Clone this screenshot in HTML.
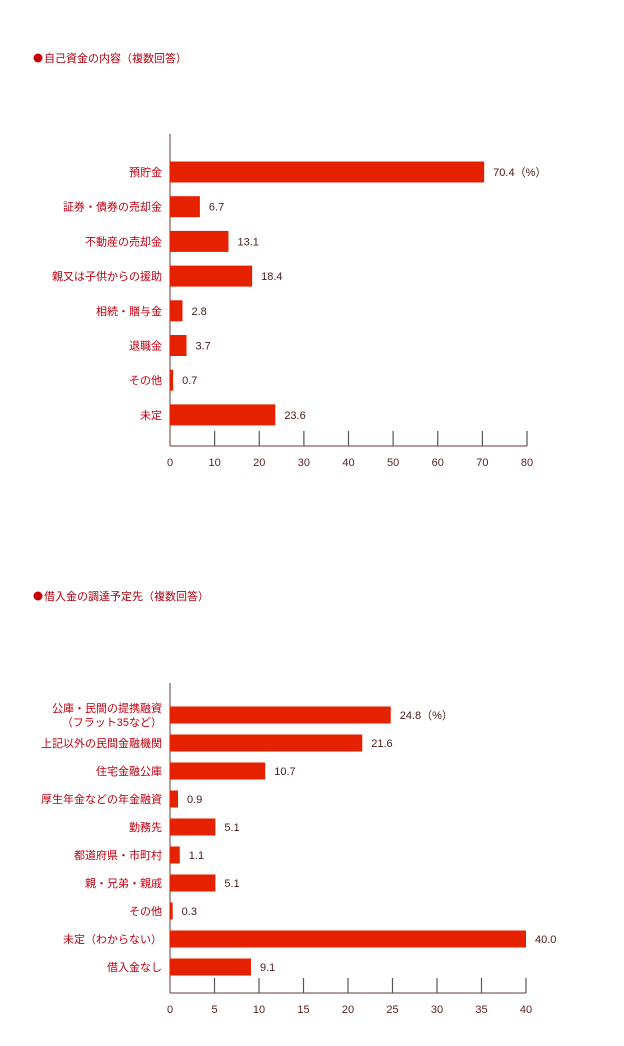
<!DOCTYPE html>
<html><head><meta charset="utf-8">
<style>
html,body{margin:0;padding:0;background:#fff;}
body{width:624px;height:1041px;overflow:hidden;font-family:"Liberation Sans","Noto Sans CJK JP",sans-serif;}
svg text{font-family:"Liberation Sans","Noto Sans CJK JP",sans-serif;}
</style></head>
<body>
<svg id="chart" width="624" height="1041" xmlns="http://www.w3.org/2000/svg">
  <g>
    <circle cx="38" cy="58" r="4.5" fill="#c8000a"></circle>
    <text x="44" y="62" font-size="11" fill="#b00010">自己資金の内容（複数回答）</text>
  </g>
  <g>
    <circle cx="38" cy="596" r="4.5" fill="#c8000a"></circle>
    <text x="44" y="600" font-size="11" fill="#b00010">借入金の調達予定先（複数回答）</text>
  </g>
  <g id="c1"></g>
  <g id="c2"></g>
</svg>
<script>
const cats1 = ["預貯金","証券・債券の売却金","不動産の売却金","親又は子供からの援助","相続・贈与金","退職金","その他","未定"];
const vals1 = [70.4,6.7,13.1,18.4,2.8,3.7,0.7,23.6];
const labels1 = ["70.4（%）","6.7","13.1","18.4","2.8","3.7","0.7","23.6"];
const ticks1 = [0,10,20,30,40,50,60,70,80];

const cats2 = [["公庫・民間の提携融資","（フラット35など）"],["上記以外の民間金融機関"],["住宅金融公庫"],["厚生年金などの年金融資"],["勤務先"],["都道府県・市町村"],["親・兄弟・親戚"],["その他"],["未定（わからない）"],["借入金なし"]];
const vals2 = [24.8,21.6,10.7,0.9,5.1,1.1,5.1,0.3,40.0,9.1];
const labels2 = ["24.8（%）","21.6","10.7","0.9","5.1","1.1","5.1","0.3","40.0","9.1"];
const ticks2 = [0,5,10,15,20,25,30,35,40];

const NS="http://www.w3.org/2000/svg";
function mk(tag,attrs,parent){const e=document.createElementNS(NS,tag);for(const k in attrs)e.setAttribute(k,attrs[k]);parent.appendChild(e);return e;}

function draw(g,cats,vals,labels,ticks,o){
  const x=v=>o.x0+(v-ticks[0])/(ticks[ticks.length-1]-ticks[0])*(o.x1-o.x0);
  const ax=mk('line',{x1:o.x0,y1:o.yTop,x2:o.x0,y2:o.yAxis,stroke:'#6b3a3a','stroke-width':1},g);
  
  
  const bx=mk('line',{x1:o.x0,y1:o.yAxis,x2:o.x1,y2:o.yAxis,stroke:'#6b3a3a','stroke-width':1},g);
  
  
  ticks.forEach((t,i)=>{
    if(i>0){const tl=mk('line',{x1:x(t),y1:o.yAxis-15,x2:x(t),y2:o.yAxis,stroke:'#555','stroke-width':1.2},g);
    
    }
    const tt=mk('text',{x:x(t),y:o.yAxis+20,'font-size':11,fill:'#5a1e1e','text-anchor':'middle'},g);
    tt.textContent=t;
    
    
  });
  cats.forEach((c,i)=>{
    const cy=o.y0+i*o.step;
    const r=mk('rect',{x:o.x0,y:cy-o.h/2,width:x(vals[i])-o.x0,height:o.h,fill:'#e62100'},g);
    
    
    const lines=Array.isArray(c)?c:[c];
    lines.forEach((ln,j)=>{
      const t=mk('text',{x:o.x0-8,y:cy+4+(j-(lines.length-1)/2)*14,'font-size':11,fill:'#c00010','text-anchor':'end'},g);
      t.textContent=ln;
      
      
    });
    const vt=mk('text',{x:x(vals[i])+o.gap,y:cy+4,'font-size':11,fill:'#4a1a1a'},g);
    vt.textContent=labels[i];
    
    
  });
}
draw(document.getElementById('c1'),cats1,vals1,labels1,ticks1,{x0:170,x1:527,yTop:134,yAxis:446,y0:172,step:34.7,h:21,gap:9});
draw(document.getElementById('c2'),cats2,vals2,labels2,ticks2,{x0:170,x1:526,yTop:683,yAxis:993,y0:715,step:28,h:17,gap:9});
</script>
</body></html>
